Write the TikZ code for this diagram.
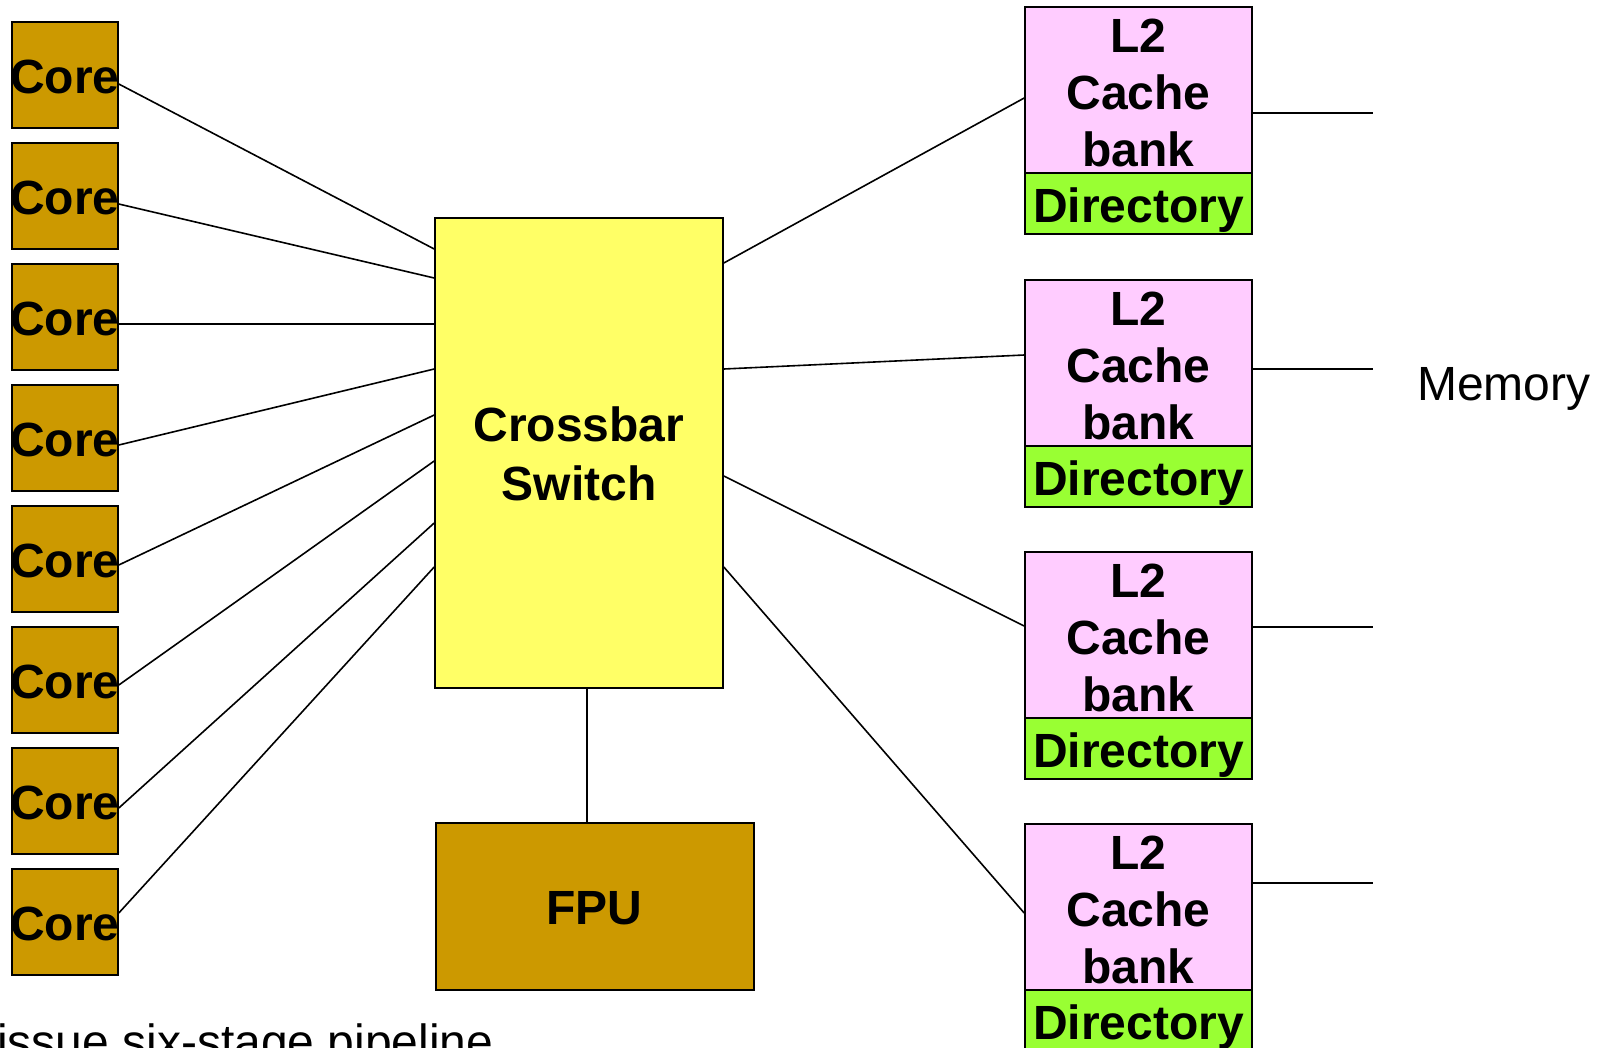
\documentclass[tikz,border=0pt]{standalone}
\usepackage{fontspec}
\setmainfont{Liberation Sans}
\definecolor{coreGold}{HTML}{CC9900}
\definecolor{xbarYellow}{HTML}{FFFF66}
\definecolor{cachePink}{HTML}{FFCCFF}
\definecolor{dirGreen}{HTML}{99FF33}
\begin{document}
\begin{tikzpicture}[x=1pt,y=-1pt,
  box/.style={draw=black, line width=1.6pt, rectangle, inner sep=0pt},
  corebox/.style={box, fill=coreGold, minimum width=106pt, minimum height=106pt},
  cachebox/.style={box, fill=cachePink, minimum width=227pt, minimum height=166pt},
  dirbox/.style={box, fill=dirGreen, minimum width=227pt, minimum height=61pt},
  lab/.style={font=\fontsize{48}{57}\selectfont\bfseries, inner sep=0pt, anchor=base},
  plain/.style={font=\fontsize{48}{57}\selectfont, inner sep=0pt},
  wire/.style={line width=1.6pt, draw=black}]
\useasboundingbox (0,0) rectangle (1608,1047);
\clip (0,0) rectangle (1608,1047);

% eight cores in a column
\foreach \i in {1,...,8} {
  \pgfmathsetmacro\cy{75+121*(\i-1)}
  \node[corebox] (c\i) at (65,\cy) {};
  \node[lab] (ct\i) at (65,\cy+18) {Core};
}

% crossbar and FPU
\node[box, fill=xbarYellow, minimum width=288pt, minimum height=470pt] (xbar) at (579,453) {};
\node[lab] (xbart1) at (579,441) {Crossbar};
\node[lab] (xbart2) at (579,500) {Switch};
\node[box, fill=coreGold, minimum width=318pt, minimum height=167pt] (fpu) at (595,906.5) {};
\node[lab] (fput) at (594,924) {FPU};

% four L2 banks, each with its directory
\foreach \k/\t in {1/7, 2/280, 3/552, 4/824} {
  \node[cachebox] (l2\k) at (1138.5,\t+83) {};
  \node[dirbox] (dir\k) at (1138.5,\t+196.5) {};
  \node[lab] (l2a\k) at (1138.5,\t+45) {L2};
  \node[lab] (l2b\k) at (1138.5,\t+102) {Cache};
  \node[lab] (l2c\k) at (1138.5,\t+159) {bank};
  \node[lab] (dirt\k) at (1138.5,\t+215) {Directory};
}

% memory side
\coordinate (m1) at (1373,113);
\coordinate (m2) at (1373,369);
\coordinate (m3) at (1373,627);
\coordinate (m4) at (1373,883);
\node[plain, anchor=base west] (mem) at (1417,400) {Memory};

% cores to crossbar
\foreach \i/\a/\b in {1/84/249, 2/204/278, 3/324/324, 4/445/369,
                      5/565/415, 6/685/461, 7/808/523, 8/913/567} {
  \draw[wire] (c\i.east |- 0,\a) -- (xbar.west |- 0,\b);
}

% crossbar to L2 banks
\foreach \k/\a/\b in {1/263/98, 2/369/355, 3/476/626, 4/567/913} {
  \draw[wire] (xbar.east |- 0,\a) -- (l2\k.west |- 0,\b);
}

% L2 banks to memory
\foreach \k in {1,...,4} {
  \draw[wire] (l2\k.east |- m\k) -- (m\k);
}

% crossbar to FPU
\draw[wire] (xbar.south -| 587,0) -- (fpu.north -| 587,0);

\node[plain, anchor=base west] (note) at (-3,1058) {issue six-stage pipeline};
\end{tikzpicture}
\end{document}
